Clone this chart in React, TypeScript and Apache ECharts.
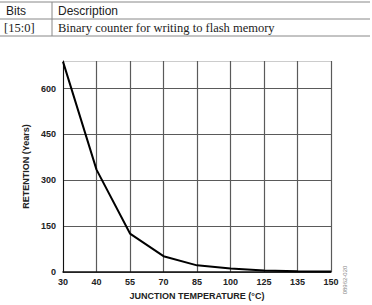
import React, { useEffect, useRef } from "react";
import * as echarts from "echarts";

const temperatures = ["30", "40", "55", "70", "85", "100", "125", "135", "150"];
const retention = [688, 335, 126, 52, 22, 12, 5, 3, 2];
const tableHeader = ["Bits", "Description"];
const tableRow = ["[15:0]", "Binary counter for writing to flash memory"];

export default function App() {
  const ref = useRef<HTMLDivElement>(null);
  useEffect(() => {
    if (!ref.current) return;
    const chart = echarts.init(ref.current, null, { renderer: "svg" });
    const gridColor = "#5a5a5a";
    chart.setOption({
      animation: false,
      backgroundColor: "#fff",
      grid: { left: 63, right: 41, top: 61, bottom: 30 },
      xAxis: {
        type: "category",
        data: temperatures,
        boundaryGap: false,
        name: "JUNCTION TEMPERATURE (°C)",
        nameLocation: "middle",
        nameGap: 17,
        nameTextStyle: { fontFamily: "Liberation Sans", fontWeight: "bold", fontSize: 9, color: "#222" },
        axisLine: { lineStyle: { color: "#111", width: 1.5 } },
        axisTick: { show: false },
        axisLabel: { fontFamily: "Liberation Sans", fontWeight: "bold", fontSize: 9, color: "#222", margin: 5 },
        splitLine: { show: true, lineStyle: { color: gridColor, width: 1.2 } },
      },
      yAxis: {
        type: "value",
        min: 0,
        max: 690,
        interval: 150,
        name: "RETENTION (Years)",
        nameLocation: "middle",
        nameGap: 28,
        nameTextStyle: { fontFamily: "Liberation Sans", fontWeight: "bold", fontSize: 9, color: "#222" },
        axisLine: { show: true, lineStyle: { color: "#111", width: 1 } },
        axisTick: { show: false },
        axisLabel: { fontFamily: "Liberation Sans", fontWeight: "bold", fontSize: 9, color: "#222", margin: 7, showMaxLabel: false },
        splitLine: {
          show: true,
          lineStyle: { color: [gridColor, gridColor, gridColor, gridColor, gridColor, "#ccc"], width: 1.2 },
        },
      },
      series: [
        {
          type: "line",
          data: retention,
          showSymbol: false,
          symbol: "none",
          lineStyle: { color: "#000", width: 2 },
        },
      ],
      graphic: [
        { type: "line", shape: { x1: 0, y1: 2, x2: 370, y2: 2 }, style: { stroke: "#888", lineWidth: 1 } },
        { type: "line", shape: { x1: 0, y1: 19, x2: 370, y2: 19 }, style: { stroke: "#888", lineWidth: 1 } },
        { type: "line", shape: { x1: 0, y1: 36, x2: 370, y2: 36 }, style: { stroke: "#888", lineWidth: 1 } },
        { type: "line", shape: { x1: 52, y1: 2, x2: 52, y2: 36 }, style: { stroke: "#888", lineWidth: 1 } },
        {
          type: "text", x: 6, y: 11,
          style: { text: tableHeader[0], fontFamily: "Liberation Sans", fontSize: 12, fill: "#222", verticalAlign: "middle" },
        },
        {
          type: "text", x: 58, y: 11,
          style: { text: tableHeader[1], fontFamily: "Liberation Sans", fontSize: 12, fill: "#222", verticalAlign: "middle" },
        },
        {
          type: "text", x: 4, y: 28,
          style: { text: tableRow[0], fontFamily: "Liberation Serif", fontSize: 12.5, fill: "#222", verticalAlign: "middle" },
        },
        {
          type: "text", x: 58, y: 28,
          style: { text: tableRow[1], fontFamily: "Liberation Serif", fontSize: 12.5, fill: "#222", verticalAlign: "middle" },
        },
        {
          type: "text", x: 345, y: 280, rotation: Math.PI / 2,
          style: { text: "08962-020", fontFamily: "Liberation Sans", fontSize: 6, fill: "#888", align: "center", verticalAlign: "middle" },
        },
      ],
    });
    return () => chart.dispose();
  }, []);
  return <div ref={ref} style={{ position: "fixed", left: 0, top: 0, width: 372, height: 305 }} />;
}
